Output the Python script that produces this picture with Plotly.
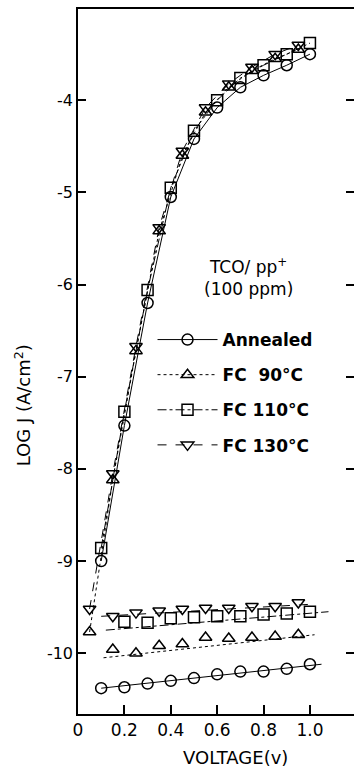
import plotly.graph_objects as go

# ---- data ----
series_names = ["Annealed", "FC  90°C", "FC 110°C", "FC 130°C"]

# forward (steep) branch
V_even = [0.1, 0.2, 0.3, 0.4, 0.5, 0.6, 0.7, 0.8, 0.9, 1.0]
V_odd = [0.05, 0.15, 0.25, 0.35, 0.45, 0.55, 0.65, 0.75, 0.85, 0.95]
J_ann_hi = [-9.0, -7.53, -6.2, -5.05, -4.42, -4.08, -3.86, -3.73, -3.62, -3.5]
J_90_hi = [-9.77, -8.12, -6.72, -5.42, -4.6, -4.13, -3.86, -3.68, -3.55, -3.45]
J_110_hi = [-8.86, -7.38, -6.06, -4.95, -4.33, -4.0, -3.76, -3.62, -3.5, -3.38]
J_130_hi = [-9.52, -8.05, -6.67, -5.38, -4.55, -4.08, -3.82, -3.64, -3.5, -3.4]

# low-current branch
V_ann_lo = [0.1, 0.2, 0.3, 0.4, 0.5, 0.6, 0.7, 0.8, 0.9, 1.0]
J_ann_lo = [-10.38, -10.37, -10.33, -10.3, -10.27, -10.23, -10.2, -10.2, -10.17, -10.12]
V_90_lo = [0.15, 0.25, 0.35, 0.45, 0.55, 0.65, 0.75, 0.85, 0.95]
J_90_lo = [-9.96, -10.0, -9.92, -9.9, -9.83, -9.84, -9.83, -9.82, -9.8]
V_110_lo = [0.2, 0.3, 0.4, 0.5, 0.6, 0.7, 0.8, 0.9, 1.0]
J_110_lo = [-9.66, -9.67, -9.62, -9.61, -9.6, -9.6, -9.58, -9.57, -9.55]
V_130_lo = [0.15, 0.25, 0.35, 0.45, 0.55, 0.65, 0.75, 0.85, 0.95]
J_130_lo = [-9.6, -9.56, -9.54, -9.52, -9.51, -9.51, -9.49, -9.49, -9.45]

# fitted lines through low branch
V_ann_fit = [0.1, 1.05]
J_ann_fit = [-10.38, -10.12]
V_90_fit = [0.11, 1.02]
J_90_fit = [-10.05, -9.8]
V_110_fit = [0.12, 1.08]
J_110_fit = [-9.75, -9.55]
V_130_fit = [0.1, 1.0]
J_130_fit = [-9.6, -9.47]

x_ticks = [0, 0.2, 0.4, 0.6, 0.8, 1.0]
x_ticktext = ["0", "0.2", "0.4", "0.6", "0.8", "1.0"]
y_ticks = [-4, -5, -6, -7, -8, -9, -10]
y_ticktext = ["-4", "-5", "-6", "-7", "-8", "-9", "-10"]

FONT = "DejaVu Sans"
symbols = ["circle-open", "triangle-up-open", "square-open", "triangle-down-open"]
dashes = ["solid", "dot", "dashdot", "dash"]

hi = [(V_even, J_ann_hi), (V_odd, J_90_hi), (V_even, J_110_hi), (V_odd, J_130_hi)]
lo = [(V_ann_lo, J_ann_lo), (V_90_lo, J_90_lo), (V_110_lo, J_110_lo), (V_130_lo, J_130_lo)]
fits = [(V_ann_fit, J_ann_fit), (V_90_fit, J_90_fit), (V_110_fit, J_110_fit), (V_130_fit, J_130_fit)]

fig = go.Figure()
for i, name in enumerate(series_names):
    line = dict(color="black", width=1, dash=dashes[i])
    marker = dict(symbol=symbols[i], size=11, color="black", line=dict(width=1.5, color="black"))
    fig.add_trace(go.Scatter(x=hi[i][0], y=hi[i][1], mode="lines+markers", name=name,
                             legendgroup=name, line=line, marker=marker))
    fig.add_trace(go.Scatter(x=fits[i][0], y=fits[i][1], mode="lines", showlegend=False,
                             legendgroup=name, line=line))
    fig.add_trace(go.Scatter(x=lo[i][0], y=lo[i][1], mode="markers", showlegend=False,
                             legendgroup=name, marker=marker))

# invisible trace for right-side ticks
fig.add_trace(go.Scatter(x=[None], y=[None], yaxis="y2", showlegend=False))

yr = [-10.66, -3.01]
fig.update_layout(
    width=354, height=778,
    margin=dict(l=78, r=0, t=9, b=64),
    paper_bgcolor="white", plot_bgcolor="white",
    font=dict(family=FONT, color="black"),
    xaxis=dict(range=[0, 1.19], tickvals=x_ticks, ticktext=x_ticktext,
               ticks="inside", ticklen=9, tickcolor="black", tickwidth=1.5,
               showline=True, linecolor="black", linewidth=1.5, mirror=True,
               showgrid=False, zeroline=False,
               tickfont=dict(size=17, family=FONT)),
    yaxis=dict(range=yr, tickvals=y_ticks, ticktext=y_ticktext,
               ticks="inside", ticklen=8, tickcolor="black", tickwidth=1.5,
               showline=True, linecolor="black", linewidth=1.5,
               showgrid=False, zeroline=False,
               tickfont=dict(size=16, family=FONT)),
    yaxis2=dict(range=yr, overlaying="y", side="right", tickvals=y_ticks,
                showticklabels=False, ticks="inside", ticklen=8, tickcolor="black", tickwidth=1.5,
                showline=False, showgrid=False, zeroline=False),
    legend=dict(x=0.27, y=0.556, xanchor="left", yanchor="top",
                bgcolor="rgba(0,0,0,0)", font=dict(size=17, family=FONT, weight="bold"),
                tracegroupgap=10, itemwidth=60),
    showlegend=True,
    annotations=[
        dict(text="TCO/ pp<sup>+</sup><br>(100 ppm)", xref="paper", yref="paper",
             x=0.616, y=0.62, xanchor="center", yanchor="middle", showarrow=False,
             font=dict(size=17, family=FONT)),
        dict(text="VOLTAGE(v)", xref="paper", yref="paper",
             x=0.572, y=-0.0624, xanchor="center", yanchor="middle", showarrow=False,
             font=dict(size=18, family=FONT)),
        dict(text="LOG J (A/cm<sup>2</sup>)", xref="paper", yref="paper",
             x=-0.199, y=0.438, xanchor="center", yanchor="middle", showarrow=False,
             textangle=-90, font=dict(size=18, family=FONT)),
    ],
)

fig.write_html("out.html")
